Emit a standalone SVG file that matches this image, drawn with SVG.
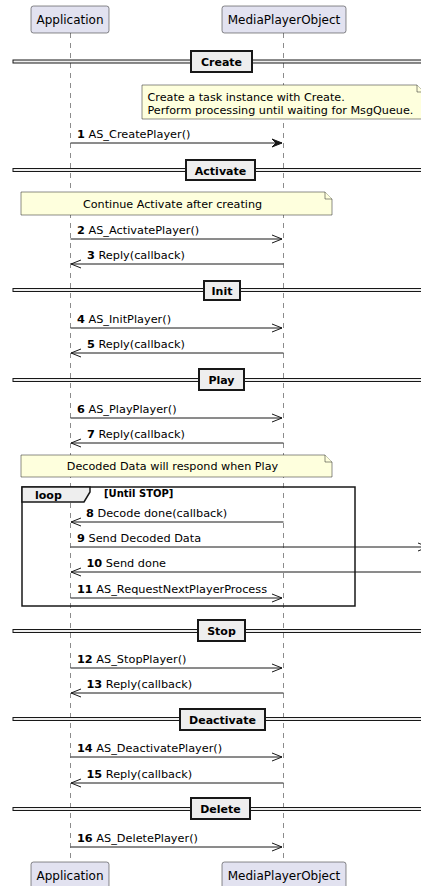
<svg xmlns="http://www.w3.org/2000/svg" width="421" height="886" viewBox="0 0 421 886">
  <style>
    text { font-family: "DejaVu Sans", "Liberation Sans", sans-serif; fill: #000; }
    .part { fill: #E2E2F0; stroke: #181818; stroke-width: 0.5; }
    .ptxt { font-size: 12px; text-anchor: middle; }
    .life { stroke: #181818; stroke-width: 0.5; stroke-dasharray: 5,5; fill: none; }
    .msg { stroke: #181818; stroke-width: 1; fill: none; }
    .mtxt { font-size: 11.3px; }
    .num { font-weight: bold; }
    .divbar { fill: #EEEEEE; stroke: #181818; stroke-width: 1; }
    .divbox { fill: #EEEEEE; stroke: #181818; stroke-width: 2; }
    .divtxt { font-size: 11px; font-weight: bold; text-anchor: middle; }
    .note { fill: #FEFFDD; stroke: #181818; stroke-width: 0.5; }
    .ntxt { font-size: 11.2px; }
    .frame { fill: none; stroke: #181818; stroke-width: 1.5; }
    .tab { fill: #EEEEEE; stroke: #181818; stroke-width: 1.5; }
  </style>
  <defs>
    <marker id="open" markerWidth="12" markerHeight="10" refX="0" refY="0" viewBox="-11 -5 12 10" orient="auto" markerUnits="userSpaceOnUse">
      <path d="M-10,-4 L0,0 L-10,4" fill="none" stroke="#181818" stroke-width="1"/>
    </marker>
    <marker id="solid" markerWidth="12" markerHeight="10" refX="0" refY="0" viewBox="-11 -5 12 10" orient="auto" markerUnits="userSpaceOnUse">
      <path d="M-10,-4 L0,0 L-10,4 L-6,0 Z" fill="#181818" stroke="#181818" stroke-width="1"/>
    </marker>
  </defs>

  <!-- lifelines -->
  <g id="lifelines">
    <line class="life" x1="70.5" y1="33" x2="70.5" y2="862"/>
    <line class="life" x1="283.5" y1="33" x2="283.5" y2="862"/>
  </g>

  <!-- participants -->
  <g id="application-top">
    <rect class="part" x="31" y="6" width="78" height="27" rx="2.5"/>
    <text class="ptxt" x="70" y="24">Application</text>
  </g>
  <g id="mediaplayer-top">
    <rect class="part" x="222" y="6" width="124" height="27" rx="2.5"/>
    <text class="ptxt" x="284" y="24">MediaPlayerObject</text>
  </g>
  <g id="application-bottom">
    <rect class="part" x="31" y="862" width="78" height="27" rx="2.5"/>
    <text class="ptxt" x="70" y="880">Application</text>
  </g>
  <g id="mediaplayer-bottom">
    <rect class="part" x="222" y="862" width="124" height="27" rx="2.5"/>
    <text class="ptxt" x="284" y="880">MediaPlayerObject</text>
  </g>

  <!-- section dividers -->
  <g id="div-create">
    <rect class="divbar" x="13" y="60" width="420" height="3"/>
    <rect class="divbox" x="191" y="51" width="61" height="21"/>
    <text class="divtxt" x="221.5" y="66">Create</text>
  </g>
  <g id="div-activate">
    <rect class="divbar" x="13" y="168.5" width="420" height="3"/>
    <rect class="divbox" x="186" y="160" width="69" height="20"/>
    <text class="divtxt" x="220.5" y="174.5">Activate</text>
  </g>
  <g id="div-init">
    <rect class="divbar" x="13" y="288.5" width="420" height="3"/>
    <rect class="divbox" x="204" y="281" width="36" height="19"/>
    <text class="divtxt" x="222" y="294.5">Init</text>
  </g>
  <g id="div-play">
    <rect class="divbar" x="13" y="378.5" width="420" height="3"/>
    <rect class="divbox" x="199" y="369" width="45" height="21"/>
    <text class="divtxt" x="221.5" y="384">Play</text>
  </g>
  <g id="div-stop">
    <rect class="divbar" x="13" y="629.5" width="420" height="3"/>
    <rect class="divbox" x="198" y="620" width="47" height="21"/>
    <text class="divtxt" x="221.5" y="635">Stop</text>
  </g>
  <g id="div-deactivate">
    <rect class="divbar" x="13" y="717.5" width="420" height="3"/>
    <rect class="divbox" x="180" y="709" width="85" height="21"/>
    <text class="divtxt" x="222.5" y="724">Deactivate</text>
  </g>
  <g id="div-delete">
    <rect class="divbar" x="13" y="807.5" width="420" height="3"/>
    <rect class="divbox" x="191" y="798" width="59" height="21"/>
    <text class="divtxt" x="220.5" y="813">Delete</text>
  </g>

  <!-- notes -->
  <g id="note-create">
    <path class="note" d="M142,85 L417,85 L424,92 L424,119 L142,119 Z"/>
    <path class="note" d="M417,85 L417,92 L424,92" fill="none"/>
    <text class="ntxt" x="147.5" y="101">Create a task instance with Create.</text>
    <text class="ntxt" x="147.5" y="114">Perform processing until waiting for MsgQueue.</text>
  </g>
  <g id="note-activate">
    <path class="note" d="M21,192 L325,192 L332,199 L332,215 L21,215 Z"/>
    <path class="note" d="M325,192 L325,199 L332,199" fill="none"/>
    <text class="ntxt" x="172.5" y="208" text-anchor="middle">Continue Activate after creating</text>
  </g>
  <g id="note-play">
    <path class="note" d="M21,455 L325,455 L332,462 L332,477 L21,477 Z"/>
    <path class="note" d="M325,455 L325,462 L332,462" fill="none"/>
    <text class="ntxt" x="172.5" y="470" text-anchor="middle">Decoded Data will respond when Play</text>
  </g>

  <!-- loop fragment -->
  <g id="loop">
    <rect class="frame" x="22" y="487" width="333" height="119"/>
    <path class="tab" d="M22,487 L90,487 L90,492 L84,502 L22,502 Z"/>
    <text x="35" y="499" font-size="11" font-weight="bold">loop</text>
    <text x="104" y="497" font-size="10" font-weight="bold">[Until STOP]</text>
  </g>

  <!-- messages -->
  <g id="connectors">
    <line class="msg" x1="70.5" y1="143" x2="282" y2="143" marker-end="url(#solid)"/>
    <line class="msg" x1="70.5" y1="239" x2="282" y2="239" marker-end="url(#open)"/>
    <line class="msg" x1="283.5" y1="264" x2="71" y2="264" marker-end="url(#open)"/>
    <line class="msg" x1="70.5" y1="328" x2="282" y2="328" marker-end="url(#open)"/>
    <line class="msg" x1="283.5" y1="353" x2="71" y2="353" marker-end="url(#open)"/>
    <line class="msg" x1="70.5" y1="418" x2="282" y2="418" marker-end="url(#open)"/>
    <line class="msg" x1="283.5" y1="443" x2="71" y2="443" marker-end="url(#open)"/>
    <line class="msg" x1="283.5" y1="522" x2="71" y2="522" marker-end="url(#open)"/>
    <line class="msg" x1="70.5" y1="547" x2="428" y2="547" marker-end="url(#open)"/>
    <line class="msg" x1="430" y1="572" x2="71" y2="572" marker-end="url(#open)"/>
    <line class="msg" x1="70.5" y1="598" x2="282" y2="598" marker-end="url(#open)"/>
    <line class="msg" x1="70.5" y1="668" x2="282" y2="668" marker-end="url(#open)"/>
    <line class="msg" x1="283.5" y1="693" x2="71" y2="693" marker-end="url(#open)"/>
    <line class="msg" x1="70.5" y1="757" x2="282" y2="757" marker-end="url(#open)"/>
    <line class="msg" x1="283.5" y1="783" x2="71" y2="783" marker-end="url(#open)"/>
    <line class="msg" x1="70.5" y1="847" x2="282" y2="847" marker-end="url(#open)"/>
  </g>

  <!-- message labels -->
  <g id="labels" class="mtxt">
    <text class="mtxt" x="77" y="138"><tspan class="num">1</tspan> AS_CreatePlayer()</text>
    <text class="mtxt" x="77" y="234"><tspan class="num">2</tspan> AS_ActivatePlayer()</text>
    <text class="mtxt" x="87" y="259"><tspan class="num">3</tspan> Reply(callback)</text>
    <text class="mtxt" x="77" y="323"><tspan class="num">4</tspan> AS_InitPlayer()</text>
    <text class="mtxt" x="87" y="348"><tspan class="num">5</tspan> Reply(callback)</text>
    <text class="mtxt" x="77" y="413"><tspan class="num">6</tspan> AS_PlayPlayer()</text>
    <text class="mtxt" x="87" y="438"><tspan class="num">7</tspan> Reply(callback)</text>
    <text class="mtxt" x="86" y="517"><tspan class="num">8</tspan> Decode done(callback)</text>
    <text class="mtxt" x="77" y="542"><tspan class="num">9</tspan> Send Decoded Data</text>
    <text class="mtxt" x="86.5" y="567"><tspan class="num">10</tspan> Send done</text>
    <text class="mtxt" x="77" y="593"><tspan class="num">11</tspan> AS_RequestNextPlayerProcess</text>
    <text class="mtxt" x="77" y="663"><tspan class="num">12</tspan> AS_StopPlayer()</text>
    <text class="mtxt" x="86.5" y="688"><tspan class="num">13</tspan> Reply(callback)</text>
    <text class="mtxt" x="77" y="752"><tspan class="num">14</tspan> AS_DeactivatePlayer()</text>
    <text class="mtxt" x="86.5" y="778"><tspan class="num">15</tspan> Reply(callback)</text>
    <text class="mtxt" x="77" y="842"><tspan class="num">16</tspan> AS_DeletePlayer()</text>
  </g>
</svg>
